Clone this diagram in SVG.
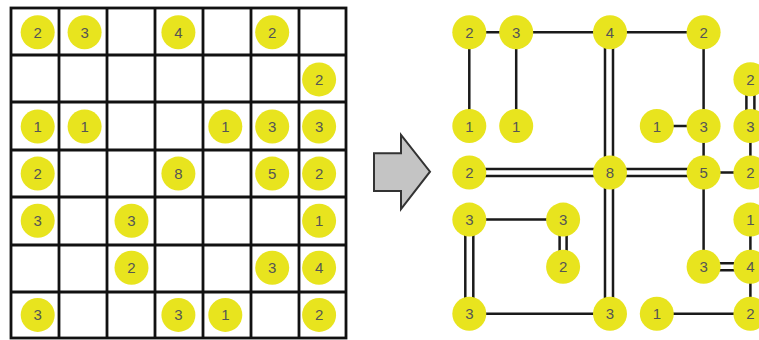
<svg xmlns="http://www.w3.org/2000/svg" width="759" height="340" viewBox="0 0 759 340">
<style>
.c{fill:#e8e41e}
.t{font-family:"Liberation Sans",Arial,sans-serif;font-size:15px;fill:#555;text-anchor:middle;dominant-baseline:central}
.g{stroke:#111;stroke-width:2.8;fill:none}
.e{stroke:#1a1a1a;stroke-width:2.5;fill:none}
</style>
<rect width="759" height="340" fill="#fff"/>
<g id="grid">
<rect class="g" x="11" y="8" width="335" height="330"/>
<path class="g" d="M59 8V338M107 8V338M155 8V338M203 8V338M251 8V338M299 8V338M11 55H346M11 102H346M11 150H346M11 197H346M11 245H346M11 292H346"/>
</g>
<g id="puzzle">
<g id="p00"><circle class="c" cx="37.7" cy="32.3" r="17"/><text class="t" x="37.7" y="32.3">2</text></g>
<g id="p01"><circle class="c" cx="84.6" cy="32.3" r="17"/><text class="t" x="84.6" y="32.3">3</text></g>
<g id="p03"><circle class="c" cx="178.4" cy="32.3" r="17"/><text class="t" x="178.4" y="32.3">4</text></g>
<g id="p05"><circle class="c" cx="272.2" cy="32.3" r="17"/><text class="t" x="272.2" y="32.3">2</text></g>
<g id="p16"><circle class="c" cx="319.1" cy="79.4" r="17"/><text class="t" x="319.1" y="79.4">2</text></g>
<g id="p20"><circle class="c" cx="37.7" cy="126.5" r="17"/><text class="t" x="37.7" y="126.5">1</text></g>
<g id="p21"><circle class="c" cx="84.6" cy="126.5" r="17"/><text class="t" x="84.6" y="126.5">1</text></g>
<g id="p24"><circle class="c" cx="225.3" cy="126.5" r="17"/><text class="t" x="225.3" y="126.5">1</text></g>
<g id="p25"><circle class="c" cx="272.2" cy="126.5" r="17"/><text class="t" x="272.2" y="126.5">3</text></g>
<g id="p26"><circle class="c" cx="319.1" cy="126.5" r="17"/><text class="t" x="319.1" y="126.5">3</text></g>
<g id="p30"><circle class="c" cx="37.7" cy="173.6" r="17"/><text class="t" x="37.7" y="173.6">2</text></g>
<g id="p33"><circle class="c" cx="178.4" cy="173.6" r="17"/><text class="t" x="178.4" y="173.6">8</text></g>
<g id="p35"><circle class="c" cx="272.2" cy="173.6" r="17"/><text class="t" x="272.2" y="173.6">5</text></g>
<g id="p36"><circle class="c" cx="319.1" cy="173.6" r="17"/><text class="t" x="319.1" y="173.6">2</text></g>
<g id="p40"><circle class="c" cx="37.7" cy="220.7" r="17"/><text class="t" x="37.7" y="220.7">3</text></g>
<g id="p42"><circle class="c" cx="131.5" cy="220.7" r="17"/><text class="t" x="131.5" y="220.7">3</text></g>
<g id="p46"><circle class="c" cx="319.1" cy="220.7" r="17"/><text class="t" x="319.1" y="220.7">1</text></g>
<g id="p52"><circle class="c" cx="131.5" cy="267.8" r="17"/><text class="t" x="131.5" y="267.8">2</text></g>
<g id="p55"><circle class="c" cx="272.2" cy="267.8" r="17"/><text class="t" x="272.2" y="267.8">3</text></g>
<g id="p56"><circle class="c" cx="319.1" cy="267.8" r="17"/><text class="t" x="319.1" y="267.8">4</text></g>
<g id="p60"><circle class="c" cx="37.7" cy="314.9" r="17"/><text class="t" x="37.7" y="314.9">3</text></g>
<g id="p63"><circle class="c" cx="178.4" cy="314.9" r="17"/><text class="t" x="178.4" y="314.9">3</text></g>
<g id="p64"><circle class="c" cx="225.3" cy="314.9" r="17"/><text class="t" x="225.3" y="314.9">1</text></g>
<g id="p66"><circle class="c" cx="319.1" cy="314.9" r="17"/><text class="t" x="319.1" y="314.9">2</text></g>
</g>
<g id="arrow">
<polygon points="374,153.3 401,153.3 401,135 430,171.7 401,209 401,191 374,191" fill="#c4c4c4" stroke="#333" stroke-width="2" stroke-linejoin="miter"/>
</g>
<g id="connectors">
<path class="e" d="M469.3 32.3H516.2M516.2 32.3H610M610 32.3H703.6M469.3 32.3V126M516.2 32.3V126M703.6 32.3V126M656.8 126H703.6M703.6 126V172.5M750.4 126V172.5M703.6 172.5H750.4M703.6 172.5V266.7M469.3 219.6H563.1M750.4 219.6V266.7M750.4 266.7V313.7M469.3 313.7H610M656.8 313.7H750.4"/>
<path class="e" d="M605 32.3V313.7M613 32.3V313.7M469.3 169H703.6M469.3 176H703.6M746.4 79.2V126M754.4 79.2V126M559.6 219.6V266.7M566.6 219.6V266.7M465.3 219.6V313.7M473.3 219.6V313.7M703.6 263.2H750.4M703.6 270.2H750.4"/>
</g>
<g id="solution">
<g id="s00"><circle class="c" cx="469.3" cy="32.3" r="17"/><text class="t" x="469.3" y="32.3">2</text></g>
<g id="s01"><circle class="c" cx="516.2" cy="32.3" r="17"/><text class="t" x="516.2" y="32.3">3</text></g>
<g id="s03"><circle class="c" cx="610" cy="32.3" r="17"/><text class="t" x="610" y="32.3">4</text></g>
<g id="s05"><circle class="c" cx="703.6" cy="32.3" r="17"/><text class="t" x="703.6" y="32.3">2</text></g>
<g id="s16"><circle class="c" cx="750.4" cy="79.2" r="17"/><text class="t" x="750.4" y="79.2">2</text></g>
<g id="s20"><circle class="c" cx="469.3" cy="126" r="17"/><text class="t" x="469.3" y="126">1</text></g>
<g id="s21"><circle class="c" cx="516.2" cy="126" r="17"/><text class="t" x="516.2" y="126">1</text></g>
<g id="s24"><circle class="c" cx="656.8" cy="126" r="17"/><text class="t" x="656.8" y="126">1</text></g>
<g id="s25"><circle class="c" cx="703.6" cy="126" r="17"/><text class="t" x="703.6" y="126">3</text></g>
<g id="s26"><circle class="c" cx="750.4" cy="126" r="17"/><text class="t" x="750.4" y="126">3</text></g>
<g id="s30"><circle class="c" cx="469.3" cy="172.5" r="17"/><text class="t" x="469.3" y="172.5">2</text></g>
<g id="s33"><circle class="c" cx="610" cy="172.5" r="17"/><text class="t" x="610" y="172.5">8</text></g>
<g id="s35"><circle class="c" cx="703.6" cy="172.5" r="17"/><text class="t" x="703.6" y="172.5">5</text></g>
<g id="s36"><circle class="c" cx="750.4" cy="172.5" r="17"/><text class="t" x="750.4" y="172.5">2</text></g>
<g id="s40"><circle class="c" cx="469.3" cy="219.6" r="17"/><text class="t" x="469.3" y="219.6">3</text></g>
<g id="s42"><circle class="c" cx="563.1" cy="219.6" r="17"/><text class="t" x="563.1" y="219.6">3</text></g>
<g id="s46"><circle class="c" cx="750.4" cy="219.6" r="17"/><text class="t" x="750.4" y="219.6">1</text></g>
<g id="s52"><circle class="c" cx="563.1" cy="266.7" r="17"/><text class="t" x="563.1" y="266.7">2</text></g>
<g id="s55"><circle class="c" cx="703.6" cy="266.7" r="17"/><text class="t" x="703.6" y="266.7">3</text></g>
<g id="s56"><circle class="c" cx="750.4" cy="266.7" r="17"/><text class="t" x="750.4" y="266.7">4</text></g>
<g id="s60"><circle class="c" cx="469.3" cy="313.7" r="17"/><text class="t" x="469.3" y="313.7">3</text></g>
<g id="s63"><circle class="c" cx="610" cy="313.7" r="17"/><text class="t" x="610" y="313.7">3</text></g>
<g id="s64"><circle class="c" cx="656.8" cy="313.7" r="17"/><text class="t" x="656.8" y="313.7">1</text></g>
<g id="s66"><circle class="c" cx="750.4" cy="313.7" r="17"/><text class="t" x="750.4" y="313.7">2</text></g>
</g>
</svg>
